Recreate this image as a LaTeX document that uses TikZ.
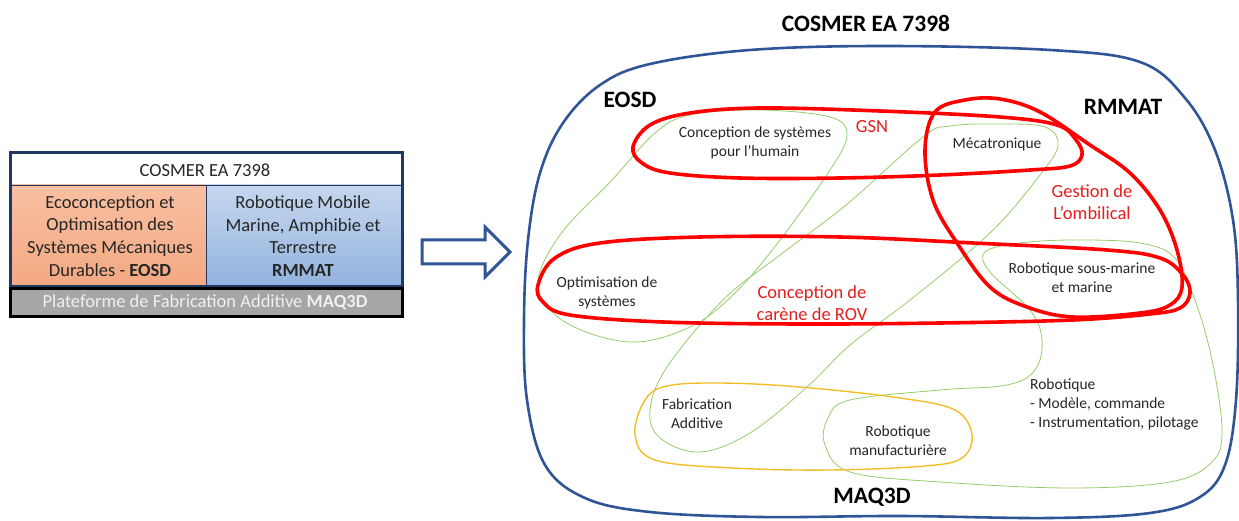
\documentclass[tikz,border=0pt]{standalone}
\usepackage{fontspec}
\setmainfont{Carlito}
\usepackage{tikz}
\usetikzlibrary{positioning}
\definecolor{navyline}{RGB}{32,56,100}
\definecolor{setblue}{RGB}{47,85,151}
\definecolor{salmontop}{RGB}{248,192,162}
\definecolor{salmonbot}{RGB}{243,168,130}
\definecolor{bluetop}{RGB}{198,215,238}
\definecolor{bluebot}{RGB}{146,178,222}
\definecolor{platgray}{RGB}{166,166,166}
\definecolor{leafgreen}{RGB}{150,205,105}
\definecolor{goldline}{RGB}{242,190,40}
\definecolor{setred}{RGB}{255,0,0}
\definecolor{labred}{RGB}{228,30,30}

\begin{document}
\begin{tikzpicture}[x=1pt, y=-1pt,
    boxtxt/.style={font=\fontsize{18.5}{22.7}\selectfont, text=black!85,
        align=center, inner sep=0pt},
    topic/.style={font=\fontsize{15.5}{19}\selectfont, text=black!85,
        align=center, inner sep=0pt},
    redtopic/.style={font=\fontsize{18.5}{22}\selectfont, text=labred,
        align=center, inner sep=0pt},
    grp/.style={font=\fontsize{23.5}{26}\selectfont\bfseries, inner sep=0pt},
    redset/.style={draw=setred, line width=3.6pt},
    greenset/.style={draw=leafgreen, line width=0.8pt},
    goldset/.style={draw=goldline, line width=1.4pt},
    outerset/.style={draw=setblue, line width=2.6pt}
]
    \useasboundingbox (0,0) rectangle (1239,521);

    % Left box
    \fill[white] (11,154) rectangle (401,185);
    \shade[top color=salmontop, bottom color=salmonbot] (11,185) rectangle (206,287);
    \shade[top color=bluetop, bottom color=bluebot] (206,185) rectangle (401,287);
    \draw[navyline, line width=0.8pt] (11,185) -- (401,185);
    \draw[navyline, line width=0.8pt] (206,185) -- (206,287);
    \draw[navyline, line width=3pt] (10,153) rectangle (402,287);
    \draw[black, line width=3pt, fill=platgray] (10,289) rectangle (402,316);
    \node[boxtxt] (cosmer) at (205,170) {COSMER EA 7398};
    \node[boxtxt] (eosdtxt) at (110,236) {Ecoconception et\\Optimisation des\\Systèmes Mécaniques\\Durables - \textbf{EOSD}};
    \node[boxtxt] (rmmattxt) at (303,236) {Robotique Mobile\\Marine, Amphibie et\\Terrestre\\\textbf{RMMAT}};
    \node[boxtxt, text=white!94!black] (maqtxt) at (205,302) {Plateforme de Fabrication Additive \textbf{MAQ3D}};

    % Block arrow
    \draw[setblue, line width=3pt, line join=miter] (422,240) -- (485,240) -- (485,227)
        -- (510,252) -- (485,277) -- (485,264) -- (422,264) -- cycle;

    % Green sets
    \draw[greenset] plot[smooth cycle, tension=0.6] coordinates {
        (690,115) (760,110) (830,117) (847,135) (830,170) (780,240) (735,293)
        (690,327) (630,342) (565,322) (538,285) (560,235) (612,180) (655,133)};
    \draw[greenset] plot[smooth cycle, tension=0.6] coordinates {
        (923,137) (950,126) (1000,124) (1045,127) (1058,145) (1040,175) (990,233)
        (910,300) (850,345) (807,387) (750,433) (700,452) (660,438) (650,410)
        (667,367) (723,300) (780,255) (846,205)};
    \draw[greenset] plot[smooth cycle, tension=0.6] coordinates {
        (985,252) (1020,243) (1075,240) (1140,243) (1175,258) (1195,300) (1212,360)
        (1222,430) (1212,462) (1170,482) (1070,488) (940,482) (850,472) (825,445)
        (828,418) (850,400) (940,390) (1007,385) (1035,370) (1042,340) (1030,310)
        (990,272)};
    \draw[goldset] plot[smooth cycle, tension=0.6] coordinates {
        (667,386) (720,383) (800,387) (900,398) (955,410) (972,435) (962,458)
        (925,466) (830,470) (733,468) (655,460) (635,435) (645,400)};

    % Red sets
    \draw[redset] plot[smooth cycle, tension=0.6] coordinates {
        (633,147) (650,125) (690,113) (760,108) (880,111) (1000,117) (1057,125)
        (1076,140) (1082,155) (1070,166) (1030,170) (940,175) (840,178) (740,178)
        (670,173) (642,163)};
    \draw[redset] plot[smooth cycle, tension=0.6] coordinates {
        (935,112) (965,100) (1000,99) (1040,112) (1090,145) (1130,173) (1160,210)
        (1177,250) (1182,287) (1170,305) (1140,313) (1073,317) (1027,307)
        (990,287) (957,243) (933,200) (925,150)};
    \draw[redset] plot[smooth cycle, tension=0.6] coordinates {
        (538,285) (555,258) (600,243) (700,237) (840,237) (973,243) (1107,250)
        (1160,258) (1183,275) (1190,293) (1180,308) (1150,314) (1073,320)
        (940,323) (800,324) (663,322) (570,315) (543,302)};

    % Outer set
    \draw[outerset] plot[smooth cycle, tension=0.6] coordinates {
        (885,46) (1050,50) (1140,62) (1185,98) (1215,150) (1233,220) (1238,300)
        (1236,400) (1225,465) (1200,497) (1150,513) (1050,518) (900,516)
        (760,517) (650,512) (585,498) (545,465) (527,400) (524,320) (528,240)
        (540,173) (563,123) (600,85) (650,64) (750,50)};

    % Labels
    \node[grp] (title) at (866,23) {COSMER EA 7398};
    \node[grp] (eosd) at (630,100) {EOSD};
    \node[grp] (rmmat) at (1123,107) {RMMAT};
    \node[grp] (maq) at (872,497) {MAQ3D};
    \node[redtopic] (gsn) at (872,127) {GSN};
    \node[redtopic] (ombil) at (1092,202) {Gestion de\\L’ombilical};
    \node[redtopic] (carene) at (812,303) {Conception de\\carène de ROV};
    \node[topic] (humain) at (755,143) {Conception de systèmes\\pour l’humain};
    \node[topic] (meca) at (997,144) {Mécatronique};
    \node[topic] (optim) at (607,293) {Optimisation de\\systèmes};
    \node[topic] (sousmarine) at (1082,278) {Robotique sous-marine\\et marine};
    \node[topic] (fabadd) at (697,414) {Fabrication\\Additive};
    \node[topic] (manuf) at (898,441) {Robotique\\manufacturière};
    \node[topic, align=left, anchor=west] (robot) at (1030,404) {Robotique\\- Modèle, commande\\- Instrumentation, pilotage};
\end{tikzpicture}
\end{document}
